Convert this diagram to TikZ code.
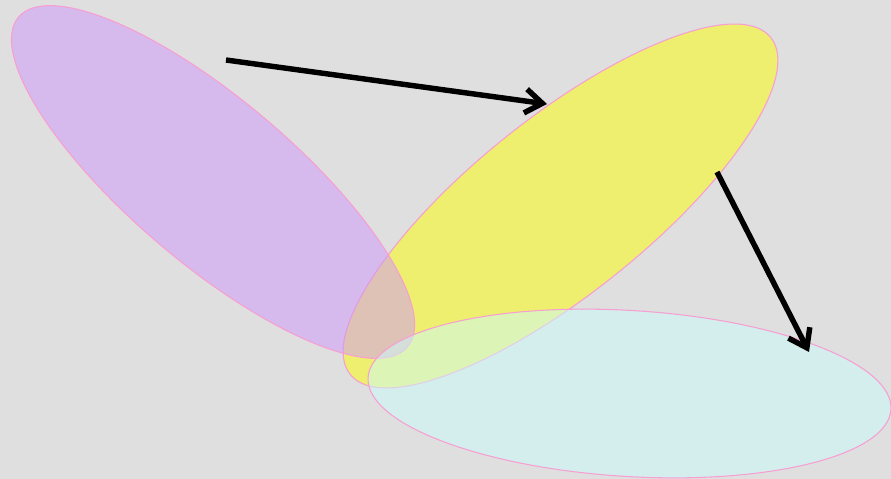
\documentclass[tikz,border=0pt]{standalone}
\usepackage{tikz}
\usetikzlibrary{arrows.meta,positioning,shapes.geometric}
\definecolor{bggray}{HTML}{DFDFDF}
\definecolor{lilac}{HTML}{CF97FD}
\definecolor{lemon}{HTML}{FDFD00}
\definecolor{aqua}{HTML}{CBFDFD}
\definecolor{rim}{HTML}{F79ED2}

\begin{document}
\begin{tikzpicture}[x=0.02cm, y=-0.02cm,
    region/.style={ellipse, draw=rim, line width=0.6pt, fill opacity=0.5, inner sep=0pt, outer sep=0pt},
    move/.style={-{Straight Barb[length=3.4mm, width=4.8mm]}, line width=3.1pt, black}
  ]
    \fill[bggray] (0,0) rectangle (891,479);
    \useasboundingbox (0,0) rectangle (891,479);

    \node[region, fill=lemon, minimum width=10.78cm, minimum height=3.52cm, rotate=38.7] (yellow) at (560.5,206) {};
    \node[region, fill=lilac, minimum width=10.2cm, minimum height=3.28cm, rotate=-40.3] (purple) at (213,182) {};
    \node[region, fill=aqua, minimum width=10.48cm, minimum height=3.32cm, rotate=-3.5] (cyan) at (629.5,393.5) {};

    \coordinate (from1) at (226,60);
    \coordinate (to1) at (547,104);
    \coordinate (from2) at (717,172);
    \coordinate (to2) at (809,352);

    \draw[move] (from1) -- (to1);
    \draw[move] (from2) -- (to2);
  \end{tikzpicture}
\end{document}
